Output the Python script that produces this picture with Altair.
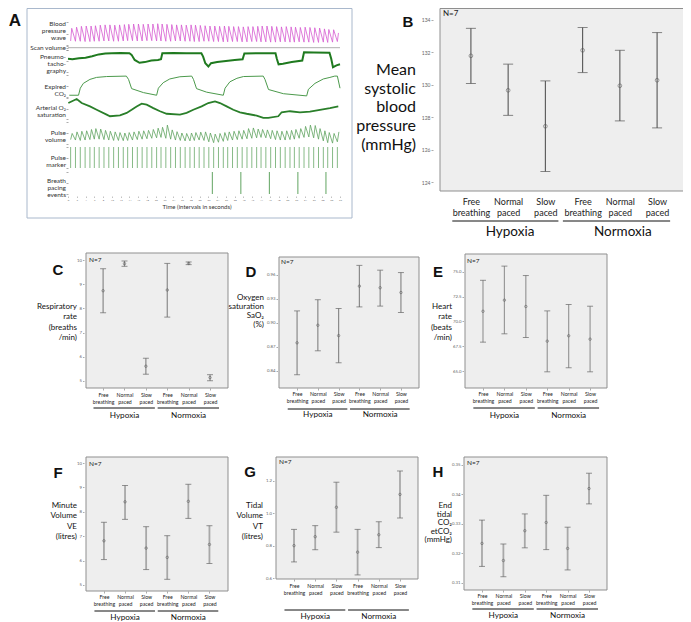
import json
import altair as alt
import pandas as pd

FONT = "Lato"
BOLD_FONT = "Liberation Sans"
MARGIN = 8
W, H = 675, 614


def cx(v):
    return v - MARGIN


def cy(v):
    return v - MARGIN


# ------------------------------------------------------------------ categories
conditions = ["Hypoxia", "Normoxia"]
breathing_modes = ["Free breathing", "Normal paced", "Slow paced"]
mode_lines = [m.split(" ") for m in breathing_modes]
category_index = [0, 1, 2, 3, 4, 5]

# ------------------------------------------------------------------ panel A traces
time_ticks = [0, 2, 4, 6, 8, 10, 12, 14, 16, 18, 20, 22, 24, 26, 28, 30, 32,
              34, 36, 38, 40, 42, 44, 46, 48, 50, 52, 54, 56, 58, 60, 62]
beat_times = [0.6, 1.7, 2.8, 3.9, 5.0, 6.0, 7.1, 8.2, 9.3, 10.4, 11.5, 12.6, 13.6,
              14.7, 15.8, 16.9, 18.0, 19.1, 20.2, 21.2, 22.3, 23.4, 24.5, 25.6, 26.7,
              27.8, 28.8, 29.9, 31.0, 32.1, 33.2, 34.3, 35.4, 36.4, 37.5, 38.6, 39.7,
              40.8, 41.9, 43.0, 44.0, 45.1, 46.2, 47.3, 48.4, 49.5, 50.6, 51.6, 52.7,
              53.8, 54.9, 56.0, 57.1, 58.2, 59.2, 60.3, 61.4]
bp_systolic = [118, 122, 125, 126, 126, 127, 129, 130, 130, 129, 130, 131, 132, 133, 133,
               132, 133, 133, 134, 133, 132, 131, 130, 130, 129, 130, 129, 128, 127, 126,
               126, 125, 126, 125, 124, 124, 123, 124, 124, 125, 126, 126, 125, 124, 123,
               124, 123, 122, 121, 122, 121, 120, 119, 116, 114, 113, 102]
bp_diastolic = [74, 73, 73, 72, 72, 73, 73, 74, 74, 73, 73, 74, 75, 75, 74, 74, 75, 75, 74,
                74, 73, 73, 74, 74, 73, 73, 72, 72, 73, 73, 72, 72, 71, 71, 72, 72, 71, 71,
                72, 72, 71, 71, 70, 70, 71, 71, 70, 70, 71, 70, 70, 69, 69, 70, 69, 70, 72]
scan_t = [0, 62]
scan_v = [0, 0]
pneumo_t = [0.0, 1.0, 2.5, 4.0, 5.5, 7.0, 8.5, 10.0, 12.0, 14.0, 14.5, 15.2, 16.3, 17.5,
            19.0, 20.5, 21.2, 21.5, 24.0, 27.0, 30.4, 30.8, 31.3, 32.0, 32.6, 34.0, 36.0,
            38.0, 39.8, 40.2, 43.0, 47.3, 47.6, 48.0, 49.0, 51.0, 53.4, 53.8, 56.0, 59.6,
            60.0, 60.4, 61.2, 62.0]
pneumo_v = [60, 58, 62, 65, 72, 80, 84, 85, 86, 85, 78, 55, 42, 45, 52, 55, 58, 85, 86, 85,
            85, 70, 40, 25, 40, 45, 50, 55, 58, 84, 85, 85, 60, 35, 38, 45, 52, 90, 89, 88,
            60, 22, 30, 35]
co2_t = [0.3, 2.4, 2.8, 3.5, 5.0, 6.5, 8.8, 13.3, 13.8, 14.5, 17.2, 20.2, 20.6, 21.7, 23.2,
         25.5, 28.2, 28.6, 29.3, 31.6, 35.4, 35.8, 36.9, 38.5, 40.0, 44.5, 44.9, 45.7, 49.1,
         54.4, 54.8, 56.3, 58.2, 59.7, 60.8, 61.4, 62.0]
co2_v = [8, 8, 40, 62, 80, 89, 93, 95, 80, 38, 20, 8, 40, 65, 82, 92, 95, 80, 38, 22, 8, 40,
         69, 85, 93, 95, 80, 34, 15, 5, 35, 62, 82, 89, 95, 95, 40]
o2_t = [0.08, 1.98, 3.12, 5.01, 6.53, 8.81, 9.57, 11.85, 13.37, 14.51, 15.65, 16.79, 17.93,
        19.45, 20.97, 22.49, 25.52, 27.04, 28.56, 30.46, 31.98, 33.5, 34.64, 36.16, 37.68,
        39.2, 40.72, 43.0, 44.52, 45.66, 47.93, 48.7, 50.6, 52.87, 55.15, 57.43, 59.71, 61.61]
o2_v = [76, 95, 76, 60, 44, 21, 13, 17, 29, 44, 60, 73, 68, 52, 37, 25, 21, 29, 44, 60, 76,
        84, 76, 60, 44, 32, 25, 16, 5, 5, 13, 32, 37, 32, 35, 44, 52, 60]
pulse_peak = [48, 55, 58, 60, 66, 70, 68, 62, 58, 55, 52, 50, 52, 55, 58, 60, 62, 66, 72, 76,
              86, 64, 56, 50, 48, 50, 52, 54, 55, 50, 45, 48, 52, 55, 58, 60, 62, 70, 73, 68,
              66, 64, 62, 60, 58, 60, 62, 66, 70, 80, 86, 84, 70, 60, 52, 48, 55]
pulse_trough = [20, 18, 16, 18, 20, 22, 22, 20, 18, 16, 16, 15, 16, 18, 20, 22, 24, 26, 28,
                30, 26, 22, 18, 16, 14, 14, 16, 18, 16, 10, 6, 8, 12, 16, 18, 20, 22, 24, 26,
                28, 30, 28, 24, 20, 18, 18, 20, 22, 26, 30, 32, 28, 22, 14, 6, 4, 10]
pacing_events = [32.9, 39.4, 45.9, 52.4, 58.8]
trace_labels = ["Blood\npressure\nwave", "Scan volume", "Pneumo-\ntacho-\ngraphy",
                "Expired\nCO₂", "Arterial O₂\nsaturation", "Pulse\nvolume",
                "Pulse\nmarker", "Breath\npacing\nevents"]

# ------------------------------------------------------------------ panels B-H
sbp_mean = [131.78, 129.66, 127.45, 132.12, 129.94, 130.28]
sbp_low = [130.08, 128.12, 124.67, 130.75, 127.78, 127.35]
sbp_high = [133.47, 131.27, 130.24, 133.52, 132.12, 133.21]
sbp_ticks = [124, 126, 128, 130, 132, 134]

rr_mean = [8.73, 9.85, 5.61, 8.76, 9.86, 5.14]
rr_low = [7.82, 9.74, 5.28, 7.64, 9.81, 5.01]
rr_high = [9.64, 9.96, 5.94, 9.86, 9.92, 5.26]
rr_ticks = [5, 6, 7, 8, 9, 10]

sao2_mean = [0.875, 0.897, 0.884, 0.946, 0.944, 0.938]
sao2_low = [0.835, 0.865, 0.850, 0.920, 0.921, 0.913]
sao2_high = [0.915, 0.929, 0.918, 0.972, 0.966, 0.963]
sao2_ticks = [0.84, 0.87, 0.90, 0.93, 0.96]

hr_mean = [71.03, 72.15, 71.51, 68.02, 68.56, 68.22]
hr_low = [67.92, 68.76, 68.39, 64.93, 65.34, 64.93]
hr_high = [74.15, 75.58, 74.63, 71.07, 71.71, 71.54]
hr_ticks = [65.0, 67.5, 70.0, 72.5, 75.0]

ve_mean = [6.81, 8.41, 6.51, 6.13, 8.43, 6.66]
ve_low = [6.04, 7.69, 5.63, 5.23, 7.73, 5.88]
ve_high = [7.57, 9.08, 7.39, 7.02, 9.13, 7.43]
ve_ticks = [5, 6, 7, 8, 9, 10]

vt_mean = [0.80, 0.855, 1.036, 0.76, 0.867, 1.115]
vt_low = [0.70, 0.775, 0.883, 0.62, 0.788, 0.97]
vt_high = [0.90, 0.923, 1.19, 0.90, 0.947, 1.259]
vt_ticks = [0.6, 0.8, 1.0, 1.2]

etco2_mean = [0.3234, 0.3176, 0.3277, 0.3305, 0.3217, 0.3420]
etco2_low = [0.3156, 0.3121, 0.3219, 0.3213, 0.3144, 0.3368]
etco2_high = [0.3313, 0.3232, 0.3334, 0.3397, 0.3289, 0.3472]
etco2_ticks = [0.31, 0.32, 0.33, 0.34, 0.35]

sample_note = "N=7"

one = pd.DataFrame({"k": [0]})
label_expr = json.dumps(mode_lines) + "[datum.value % 3]"


def text(s, x, y, size, align="left", weight="normal", font=FONT, color="#111111", lh=None):
    return alt.Chart(one).mark_text(
        text=s, align=align, baseline="middle", font=font, fontSize=size,
        fontWeight=weight, color=color, lineBreak="\n",
        lineHeight=lh if lh else round(size * 1.2, 2),
    ).encode(x=alt.value(cx(x)), y=alt.value(cy(y)))


# ------------------------------------------------------------------ panel A
t_scale = alt.Scale(domain=[0, 62], range=[cx(68), cx(340)], nice=False, zero=False)
time_axis = alt.Axis(orient="bottom", offset=cy(196) - H, values=time_ticks,
                     labelFontSize=2.6, labelColor="#666666", labelFont=FONT,
                     tickSize=1.5, tickColor="#999999", tickWidth=0.6, domain=False,
                     grid=False, title=None, labelOverlap=False, labelFlush=False,
                     labelPadding=0.5, zindex=1)
tx = alt.X("t:Q", scale=t_scale, axis=time_axis)


def band_scale(top, bottom, dom):
    return alt.Scale(domain=list(dom), range=[cy(bottom), cy(top)], nice=False, zero=False)


def band_axis(dom):
    return alt.Axis(orient="left", offset=-cx(68),
                    values=[dom[0], (dom[0] + dom[1]) / 2, dom[1]],
                    labels=False, tickSize=2, tickColor="#8a8a8a", tickWidth=0.7,
                    domain=False, grid=False, title=None, zindex=1)


def trace(df, top, bottom, color, width, dom=(0, 100)):
    return alt.Chart(df).mark_line(color=color, strokeWidth=width).encode(
        x=tx,
        y=alt.Y("v:Q", scale=band_scale(top, bottom, dom), axis=band_axis(dom)),
    )


bp_rows = []
for t, s_v, d_v in zip(beat_times, bp_systolic, bp_diastolic):
    bp_rows += [{"t": t, "v": d_v}, {"t": t + 0.25, "v": s_v}]
pv_rows = []
for t, p_v, tr_v in zip(beat_times, pulse_peak, pulse_trough):
    pv_rows += [{"t": t, "v": tr_v}, {"t": t + 0.35, "v": p_v}]

bp_line = trace(pd.DataFrame(bp_rows), 22, 45, "#d65ad0", 0.8, (60, 140))
scan_line = trace(pd.DataFrame({"t": scan_t, "v": scan_v}), 45.7, 49.7, "#9a9a9a", 0.8, (-1, 1))
pneumo_line = trace(pd.DataFrame({"t": pneumo_t, "v": pneumo_v}), 50, 72, "#1f7a1f", 2.0)
co2_line = trace(pd.DataFrame({"t": co2_t, "v": co2_v}), 75, 97, "#4c9a4c", 1.0)
o2_line = trace(pd.DataFrame({"t": o2_t, "v": o2_v}), 98, 119, "#2a7f2a", 1.8)
pv_line = trace(pd.DataFrame(pv_rows), 122, 144, "#5fa35f", 0.8)


def event_rules(times, top, bottom, color):
    return alt.Chart(pd.DataFrame({"t": times})).mark_rule(
        color=color, strokeWidth=0.9).encode(
        x=tx,
        y=alt.YDatum(1, type="quantitative", scale=band_scale(top, bottom, (0, 1)),
                     axis=band_axis((0, 1))),
        y2=alt.Y2Datum(0),
    )


marker_lines = event_rules(beat_times, 147, 168, "#79b279")
pacing_lines = event_rules(pacing_events, 172, 194, "#4f9a4f")

panel_a = alt.layer(bp_line, scan_line, pneumo_line, co2_line, o2_line, pv_line,
                    marker_lines, pacing_lines).resolve_scale(y="independent")

frame_a = alt.Chart(one).mark_rect(fill="white", stroke="#a9b8cc", strokeWidth=1).encode(
    x=alt.value(cx(27)), x2=alt.value(cx(352)), y=alt.value(0.5), y2=alt.value(cy(218)))

label_y = [24.3, 47.7, 57.3, 86.7, 108.3, 133.3, 158.3, 181]
a_texts = [text(s, 66, y, 6.5, align="right", color="#333333", lh=7)
           for s, y in zip(trace_labels, label_y)]
a_texts.append(text("Time (intervals in seconds)", 197, 207.3, 6, align="center",
                    color="#333333"))
a_texts.append(text("A", 15, 21, 17, align="center", weight="bold", font=BOLD_FONT))

# ------------------------------------------------------------------ panels B-H
SMALL = dict(lfs=5.2, llh=7, gfs=8.2, tfs=8, nfs=6.5, tick_fs=4.3, ytick=1.5,
             cap=6, ps=6, ul=((-0.45, 2.42), (2.55, 5.42)), grp_x=(1.0, 4.0),
             rule=("#8a8a8a", 1.2), capc="#666666", ptc="#555555", lfs_letter=15)

panels = [
    dict(SMALL, letter="B", mean=sbp_mean, low=sbp_low, high=sbp_high, ticks=sbp_ticks, fmt="d",
         box_x=(440, 688), box_y=(8.5, 191), xdom=(-0.83, 5.83), ydom=(123.47, 134.69),
         axis_x=433, lpad=6, lfs=9, llh=11, gfs=13.5, tfs=16, nfs=8, tick_fs=5, ytick=2,
         cap=10, ps=14, ul=((-0.5, 2.35), (2.47, 5.35)), grp_x=(1.05, 4.08),
         rule=("#555555", 1.1), capc="#555555",
         title="Mean\nsystolic\nblood\npressure\n(mmHg)", title_xy=(416, 70), title_lh=18.7,
         n_xy=(443, 14), letter_xy=(408, 22), ul_y=221, grp_y=232, xtick=0),
    dict(SMALL, letter="C", mean=rr_mean, low=rr_low, high=rr_high, ticks=rr_ticks, fmt="d",
         box_x=(86, 228), box_y=(253, 388), xdom=(-0.8, 5.84), ydom=(4.71, 10.29),
         axis_x=84, lpad=2.5, title="Respiratory\nrate\n(breaths\n/min)",
         title_xy=(77, 307), title_lh=10.3, n_xy=(89, 260), letter_xy=(58, 270),
         ul_y=408, grp_y=416, xtick=2),
    dict(SMALL, letter="D", mean=sao2_mean, low=sao2_low, high=sao2_high, ticks=sao2_ticks,
         fmt=".2f", box_x=(279, 419), box_y=(257, 388), xdom=(-0.87, 5.87),
         ydom=(0.8184, 0.9825), axis_x=277.5, lpad=1,
         title="Oxygen\nsaturation\nSaO₂\n(%)", title_xy=(264, 298), title_lh=9,
         n_xy=(281, 262), letter_xy=(251, 272), ul_y=409, grp_y=415, xtick=2),
    dict(SMALL, letter="E", mean=hr_mean, low=hr_low, high=hr_high, ticks=hr_ticks,
         fmt=".1f", box_x=(465, 607), box_y=(254, 388), xdom=(-0.84, 5.79),
         ydom=(63.3, 76.8), axis_x=463.5, lpad=1, title="Heart\nrate\n(beats\n/min)",
         title_xy=(452, 307), title_lh=10.3, n_xy=(467, 261), letter_xy=(438, 272),
         ul_y=408, grp_y=416, xtick=2, rule=("#999999", 1.2)),
    dict(SMALL, letter="F", mean=ve_mean, low=ve_low, high=ve_high, ticks=ve_ticks, fmt="d",
         box_x=(86, 228), box_y=(457, 591), xdom=(-0.85, 5.88), ydom=(4.75, 10.25),
         axis_x=84, lpad=1.5, title="Minute\nVolume\nVE\n(litres)", title_xy=(77, 506),
         title_lh=10.3, n_xy=(89, 464), letter_xy=(58, 473), ul_y=611, grp_y=617.5,
         xtick=2, rule=("#a8a8a8", 1.8)),
    dict(SMALL, letter="G", mean=vt_mean, low=vt_low, high=vt_high, ticks=vt_ticks,
         fmt=".1f", box_x=(276, 418), box_y=(457, 579), xdom=(-0.85, 5.85),
         ydom=(0.595, 1.345), axis_x=274, lpad=2.5, title="Tidal\nVolume\nVT\n(litres)",
         title_xy=(263, 506), title_lh=10.3, n_xy=(279, 462), letter_xy=(250, 472),
         ul_y=610, grp_y=617, xtick=2, rule=("#a8a8a8", 1.8)),
    dict(SMALL, letter="H", mean=etco2_mean, low=etco2_low, high=etco2_high,
         ticks=etco2_ticks, fmt=".2f", box_x=(464, 607), box_y=(457, 590),
         xdom=(-0.84, 5.84), ydom=(0.3076, 0.3527), axis_x=462.5, lpad=1.5,
         title="End\ntidal\nCO₂\netCO₂\n(mmHg)", title_xy=(452, 506), title_lh=8.6,
         n_xy=(467, 463), letter_xy=(438, 472), ul_y=609, grp_y=616, xtick=2,
         rule=("#a8a8a8", 1.8)),
]


def panel(p):
    xs = alt.Scale(domain=list(p["xdom"]), range=[cx(p["box_x"][0]), cx(p["box_x"][1])],
                   nice=False, zero=False)
    ys = alt.Scale(domain=list(p["ydom"]), range=[cy(p["box_y"][1]), cy(p["box_y"][0])],
                   nice=False, zero=False)
    df = pd.DataFrame({"idx": category_index, "mean": p["mean"], "low": p["low"],
                       "high": p["high"]})
    xaxis = alt.Axis(orient="bottom", offset=cy(p["box_y"][1]) - H, values=category_index,
                     labelExpr=label_expr, labelFont=FONT, labelFontSize=p["lfs"],
                     labelLineHeight=p["llh"], labelColor="#222222", labelPadding=p["lpad"],
                     labelOverlap=False, labelFlush=False, labelAngle=0, labelAlign="center",
                     labelBaseline="top", tickSize=p["xtick"], tickColor="#888888",
                     tickWidth=0.7, domain=False, grid=False, title=None, zindex=1)
    yaxis = alt.Axis(orient="left", offset=-cx(p["axis_x"]), values=p["ticks"],
                     format=p["fmt"], labelFont=FONT, labelFontSize=p["tick_fs"],
                     labelColor="#666666", labelPadding=1, tickSize=p["ytick"],
                     tickColor="#888888", tickWidth=0.7, domain=False, grid=False,
                     title=None, labelOverlap=False, labelFlush=False, zindex=1)

    def X(field=None, datum=None):
        if datum is None:
            return alt.X(f"{field}:Q", scale=xs, axis=xaxis)
        return alt.XDatum(datum, type="quantitative", scale=xs, axis=xaxis)

    def Y(field=None, datum=None):
        if datum is None:
            return alt.Y(f"{field}:Q", scale=ys, axis=yaxis)
        return alt.YDatum(datum, type="quantitative", scale=ys, axis=yaxis)

    bg = alt.Chart(one).mark_rect(fill="#eeeeee", stroke="#8f8f8f", strokeWidth=1).encode(
        x=X(datum=p["xdom"][0]), x2=alt.X2Datum(p["xdom"][1]),
        y=Y(datum=p["ydom"][0]), y2=alt.Y2Datum(p["ydom"][1]),
    )
    rule = alt.Chart(df).mark_rule(color=p["rule"][0], strokeWidth=p["rule"][1]).encode(
        x=X("idx"), y=Y("low"), y2="high:Q",
    )
    caps = [
        alt.Chart(df).mark_tick(orient="horizontal", size=p["cap"], thickness=1,
                                color=p["capc"]).encode(x=X("idx"), y=Y(field))
        for field in ("low", "high")
    ]
    pts = alt.Chart(df).mark_point(shape="circle", filled=False, size=p["ps"],
                                   strokeWidth=0.8, color=p["ptc"]).encode(
        x=X("idx"), y=Y("mean"),
    )
    unders = [
        alt.Chart(one).mark_rule(color="#111111", strokeWidth=1).encode(
            x=X(datum=a), x2=alt.X2Datum(b), y=alt.value(cy(p["ul_y"])))
        for a, b in p["ul"]
    ]
    groups = [
        alt.Chart(one).mark_text(text=c, font=FONT, fontSize=p["gfs"], align="center",
                                 baseline="middle", color="#111111").encode(
            x=X(datum=gx), y=alt.value(cy(p["grp_y"])))
        for c, gx in zip(conditions, p["grp_x"])
    ]
    body = alt.layer(bg, rule, *caps, pts, *unders, *groups)
    extras = [
        text(p["letter"], p["letter_xy"][0], p["letter_xy"][1], p["lfs_letter"],
             align="center", weight="bold", font=BOLD_FONT),
        text(sample_note, p["n_xy"][0], p["n_xy"][1], p["nfs"], color="#222222"),
        text(p["title"], p["title_xy"][0], p["title_xy"][1], p["tfs"], align="right",
             color="#111111", lh=p["title_lh"]),
    ]
    return [body] + extras


layers = [frame_a, panel_a] + a_texts
for p in panels:
    layers += panel(p)

chart = alt.layer(*layers).resolve_scale(x="independent", y="independent").properties(
    width=W, height=H, padding=0, autosize=alt.AutoSizeParams(type="none")
).configure_view(stroke="transparent")

chart.save("out.html", embed_options={"renderer": "svg", "actions": False})
